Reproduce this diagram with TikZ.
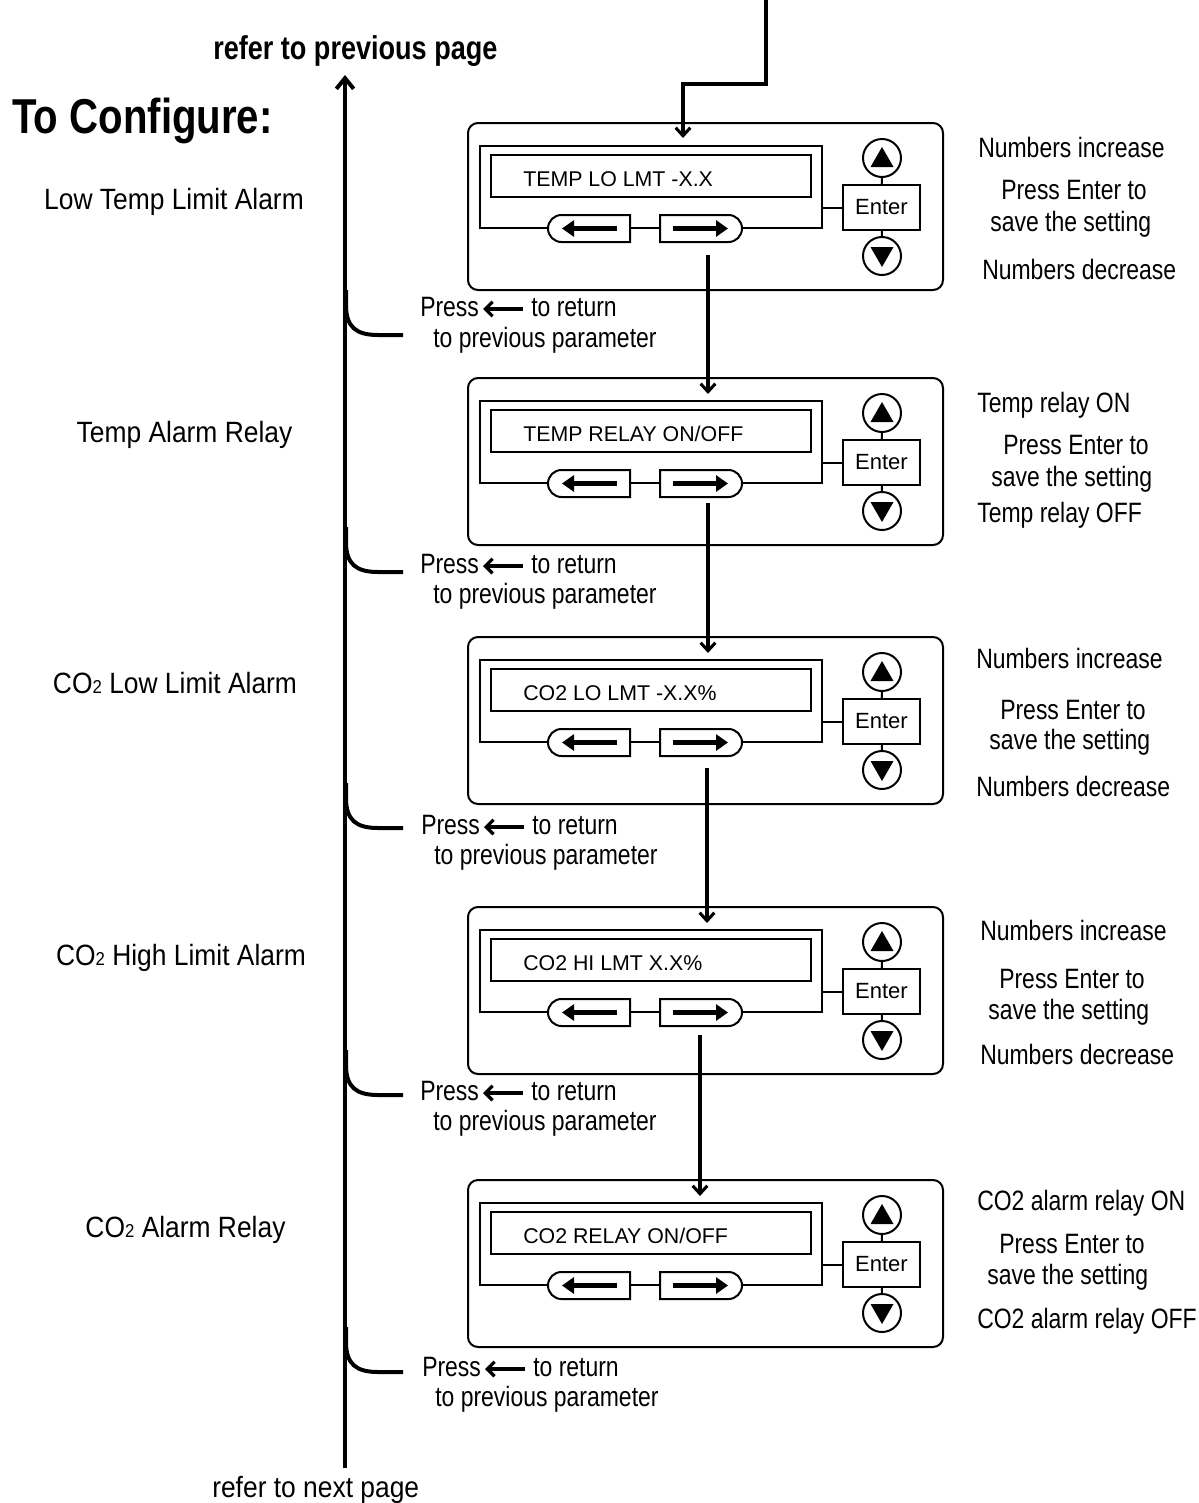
\documentclass[tikz,border=0pt]{standalone}
\usepackage{fontspec}
\setmainfont{Liberation Sans}
\newfontfamily\condA[FakeStretch=0.82]{Liberation Sans}
\newfontfamily\condB[FakeStretch=0.90]{Liberation Sans}
\usetikzlibrary{arrows.meta,shapes.misc}

\tikzset{
  panelbox/.style={draw,line width=1.5pt,rounded corners=7.5pt,minimum width=356.25pt,minimum height=125.25pt,anchor=north west,inner sep=0pt},
  framebox/.style={draw,line width=1.8pt},
  lcdbox/.style={draw,line width=2pt,minimum width=240pt,minimum height=31.5pt,inner sep=0pt},
  lcdtext/.style={inner sep=0pt,anchor=base west,font=\fontsize{16pt}{16pt}\selectfont},
  lbtn/.style={draw,fill=white,line width=1.5pt,rounded rectangle,rounded rectangle right arc=none,minimum width=61.5pt,minimum height=20.25pt,inner sep=0pt},
  rbtn/.style={draw,fill=white,line width=1.5pt,rounded rectangle,rounded rectangle left arc=none,minimum width=61.5pt,minimum height=20.25pt,inner sep=0pt},
  btnarrow/.style={line width=3.6pt,-{Triangle[length=9pt,width=12pt]}},
  enterbox/.style={draw,line width=1.5pt,minimum width=57.75pt,minimum height=33.75pt,inner sep=0pt,font=\fontsize{16.5pt}{16.5pt}\selectfont},
  circ/.style={draw,circle,line width=1.5pt,minimum size=28.5pt,inner sep=0pt},
  thinline/.style={line width=1.5pt},
  conn/.style={line width=2.3pt,-{Straight Barb[length=6pt,width=11pt]}},
  mainline/.style={line width=3pt,-{Straight Barb[length=8pt,width=13pt]}},
  brk/.style={line width=3pt},
  rt/.style={inner sep=0pt,anchor=base west,font=\condA\fontsize{21pt}{21pt}\selectfont},
  lab/.style={inner sep=0pt,anchor=base,font=\condB\fontsize{22pt}{22pt}\selectfont},
  pressarrow/.style={line width=2.4pt,-{Straight Barb[length=5.5pt,width=11pt]}},
  titlefont/.style={inner sep=0pt,anchor=base west,font=\condA\bfseries\fontsize{#1}{#1}\selectfont},
}

\newcommand\smalltwo{{\fontsize{14pt}{14pt}\selectfont 2}}

\newcommand\panel[3]{%
  \node[panelbox] (#1) at (467,#2) {};
  \draw[framebox] (480,#2+24) rectangle (822,#2+106);
  \node[lcdbox] (#1lcd) at (651,#2+54) {};
  \node[lcdtext] (#1txt) at (523,#2+64) {#3};
  \node[lbtn] (#1lb) at (589,#2+106.5) {};
  \node[rbtn] (#1rb) at (701,#2+106.5) {};
  \draw[btnarrow] (617,#2+106.5) -- (562,#2+106.5);
  \draw[btnarrow] (673,#2+106.5) -- (728,#2+106.5);
  \node[enterbox] (#1en) at (881.5,#2+85.5) {Enter};
  \node[circ] (#1up) at (882,#2+36) {};
  \node[circ] (#1dn) at (882,#2+134) {};
  \draw[thinline] (#1up) -- (#1en);
  \draw[thinline] (#1en) -- (#1dn);
  \draw[thinline] (822,#2+85.5) -- (#1en.west);
  \fill (870.5,#2+45) -- (893.5,#2+45) -- (882,#2+25) -- cycle;
  \fill (870.5,#2+125) -- (893.5,#2+125) -- (882,#2+145) -- cycle;
}

\newcommand\presslabel[4]{%
  \node[rt] (#1a) at (#2,#3) {Press};
  \coordinate (#1as) at (#2+103,#3-7);
  \coordinate (#1ae) at (#2+63,#3-7);
  \draw[pressarrow] (#1as) -- (#1ae);
  \node[rt] (#1b) at (#2+111,#3) {to return};
  \node[rt] (#1c) at (#2+13,#4) {to previous parameter};
}

\newcommand\bracket[1]{%
  \draw[brk] (346,#1-45) -- (346,#1-30) .. controls (346,#1-8) and (356,#1) .. (378,#1) -- (403,#1);
}

\begin{document}
\begin{tikzpicture}[x=0.75pt,y=-0.75pt]
\useasboundingbox (0,0) rectangle (1199,1503);

% titles
\node[titlefont=24.75pt] (prev) at (213,59) {refer to previous page};
\node[titlefont=36.75pt] (title) at (12,133) {To Configure:};
\node[lab,anchor=base west] (next) at (212,1497) {refer to next page};

% main vertical line
\coordinate (mbot) at (345,1468);
\coordinate (mtop) at (345,75);
\draw[mainline] (mbot) -- (mtop);

% brackets
\bracket{335}
\bracket{572}
\bracket{828}
\bracket{1095}
\bracket{1372}

% left labels
\node[lab] (l1) at (174,209) {Low Temp Limit Alarm};
\node[lab] (l2) at (184.5,442) {Temp Alarm Relay};
\node[lab] (l3) at (175,693) {CO\smalltwo{} Low Limit Alarm};
\node[lab] (l4) at (181,965) {CO\smalltwo{} High Limit Alarm};
\node[lab] (l5) at (185.5,1237) {CO\smalltwo{} Alarm Relay};

% panels
\panel{pA}{122}{TEMP LO LMT -X.X}
\panel{pB}{377}{TEMP RELAY ON/OFF}
\panel{pC}{636}{CO2 LO LMT -X.X\%}
\panel{pD}{906}{CO2 HI LMT X.X\%}
\panel{pE}{1179}{CO2 RELAY ON/OFF}

% incoming connector
\coordinate (src) at (766,0);
\coordinate (srcb) at (766,84);
\coordinate (srcc) at (683,84);
\coordinate (pAin) at (683,138);
\draw[conn] (src) -- (srcb) -- (srcc) -- (pAin);

% connectors between panels
\coordinate (pAout) at (708,255);
\coordinate (pBin) at (708,394);
\coordinate (pBout) at (708,503);
\coordinate (pCin) at (708,653);
\coordinate (pCout) at (707,768);
\coordinate (pDin) at (707,923);
\coordinate (pDout) at (700,1035);
\coordinate (pEin) at (700,1196);
\draw[conn] (pAout) -- (pBin);
\draw[conn] (pBout) -- (pCin);
\draw[conn] (pCout) -- (pDin);
\draw[conn] (pDout) -- (pEin);

% press labels
\presslabel{qA}{420}{316}{347}
\presslabel{qB}{420}{573}{603}
\presslabel{qC}{421}{834}{864}
\presslabel{qD}{420}{1100}{1130}
\presslabel{qE}{422}{1376}{1406}

% right texts
\node[rt] (rA1) at (978,157) {Numbers increase};
\node[rt] (rA2) at (1001,199) {Press Enter to};
\node[rt] (rA3) at (990,231) {save the setting};
\node[rt] (rA4) at (982,279) {Numbers decrease};

\node[rt] (rB1) at (977,412) {Temp relay ON};
\node[rt] (rB2) at (1003,454) {Press Enter to};
\node[rt] (rB3) at (991,486) {save the setting};
\node[rt] (rB4) at (977,522) {Temp relay OFF};

\node[rt] (rC1) at (976,668) {Numbers increase};
\node[rt] (rC2) at (1000,719) {Press Enter to};
\node[rt] (rC3) at (989,749) {save the setting};
\node[rt] (rC4) at (976,796) {Numbers decrease};

\node[rt] (rD1) at (980,940) {Numbers increase};
\node[rt] (rD2) at (999,988) {Press Enter to};
\node[rt] (rD3) at (988,1019) {save the setting};
\node[rt] (rD4) at (980,1064) {Numbers decrease};

\node[rt] (rE1) at (977,1210) {CO2 alarm relay ON};
\node[rt] (rE2) at (999,1253) {Press Enter to};
\node[rt] (rE3) at (987,1284) {save the setting};
\node[rt] (rE4) at (977,1328) {CO2 alarm relay OFF};
\end{tikzpicture}
\end{document}
